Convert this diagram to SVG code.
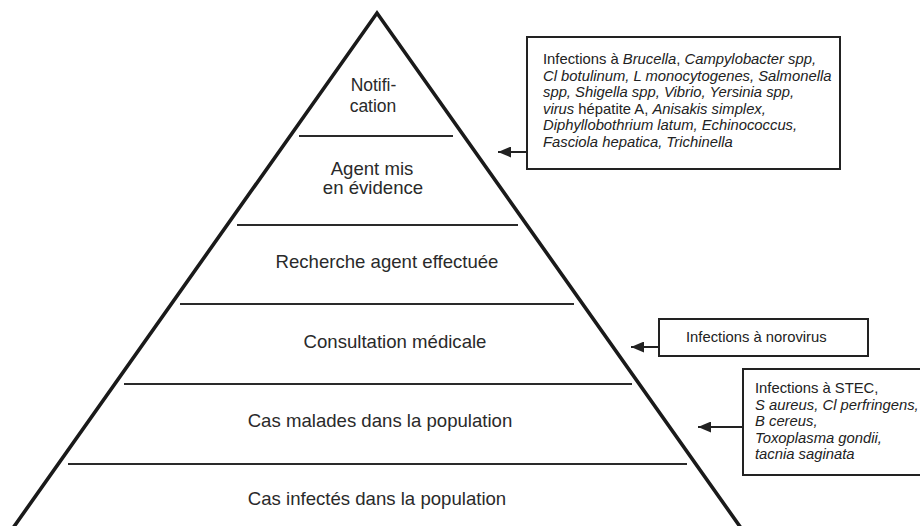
<svg xmlns="http://www.w3.org/2000/svg" width="920" height="526" viewBox="0 0 920 526">
<defs>
<style>
.side{fill:none;stroke:#1a1a1a;stroke-width:3.6;stroke-linejoin:miter}
.lvl{stroke:#2a2a2a;stroke-width:2}
.lbl{font-family:"Liberation Sans",Arial,sans-serif;font-size:18.6px;fill:#2a2a2a;text-anchor:middle}
.sm{font-size:17.5px}
.box{fill:#fff;stroke:#222;stroke-width:2}
.bt{font-family:"Liberation Sans",Arial,sans-serif;font-size:14.8px;fill:#222}
.i{font-style:italic}
.conn{stroke:#222;stroke-width:2;fill:none}
</style>
<marker id="ah" markerUnits="userSpaceOnUse" markerWidth="14" markerHeight="11" refX="13" refY="5.5" orient="auto">
<path d="M0,0 L13,5.5 L0,11 z" fill="#222"/>
</marker>
</defs>
<rect width="920" height="526" fill="#fff"/>
<g id="pyramid">
<path class="side" d="M13,528 L377,13 L741,528"/>
</g>
<g id="level-notification">
<text class="lbl sm" x="373.5" y="91">Notifi-</text>
<text class="lbl sm" x="373" y="111.5">cation</text>
<line class="lvl" x1="299" y1="136" x2="453" y2="136"/>
</g>
<g id="level-agent">
<text class="lbl"><tspan x="372" y="175">Agent mis</tspan><tspan x="373" y="194">en évidence</tspan></text>
<line class="lvl" x1="237" y1="225" x2="518" y2="225"/>
</g>
<g id="level-recherche">
<text class="lbl" x="387" y="268">Recherche agent effectuée</text>
<line class="lvl" x1="180" y1="304" x2="574" y2="304"/>
</g>
<g id="level-consultation">
<text class="lbl" x="395" y="348">Consultation médicale</text>
<line class="lvl" x1="124" y1="384" x2="632" y2="384"/>
</g>
<g id="level-malades">
<text class="lbl" x="380" y="427">Cas malades dans la population</text>
<line class="lvl" x1="68" y1="464" x2="687" y2="464"/>
</g>
<g id="level-infectes">
<text class="lbl" x="377" y="505">Cas infectés dans la population</text>
</g>
<g id="box-notification">
<rect class="box" x="527" y="37" width="313" height="132"/>
<text class="bt" x="543" y="64">Infections à <tspan class="i">Brucella</tspan>, <tspan class="i">Campylobacter spp,</tspan></text>
<text class="bt i" x="543" y="80.6">Cl botulinum, L monocytogenes, Salmonella</text>
<text class="bt i" x="543" y="97.2">spp, Shigella spp, Vibrio, Yersinia spp,</text>
<text class="bt" x="543" y="113.8"><tspan class="i">virus</tspan> hépatite A, <tspan class="i">Anisakis simplex,</tspan></text>
<text class="bt i" x="543" y="130.4">Diphyllobothrium latum, Echinococcus,</text>
<text class="bt i" x="543" y="147">Fasciola hepatica, Trichinella</text>
</g>
<g id="box-norovirus">
<rect class="box" x="659" y="319" width="209" height="37"/>
<text class="bt" x="686" y="342">Infections à norovirus</text>
</g>
<g id="box-stec">
<rect class="box" x="743" y="369" width="185" height="106"/>
<text class="bt" x="755" y="393">Infections à STEC,</text>
<text class="bt i" x="755" y="409.5">S aureus, Cl perfringens,</text>
<text class="bt i" x="755" y="426">B cereus,</text>
<text class="bt i" x="755" y="442.5">Toxoplasma gondii,</text>
<text class="bt i" x="755" y="459">tacnia saginata</text>
</g>
<g id="connectors">
<line class="conn" x1="526" y1="152" x2="498" y2="152" marker-end="url(#ah)"/>
<line class="conn" x1="658" y1="347" x2="631" y2="347" marker-end="url(#ah)"/>
<line class="conn" x1="742" y1="427" x2="698" y2="427" marker-end="url(#ah)"/>
</g>
</svg>
